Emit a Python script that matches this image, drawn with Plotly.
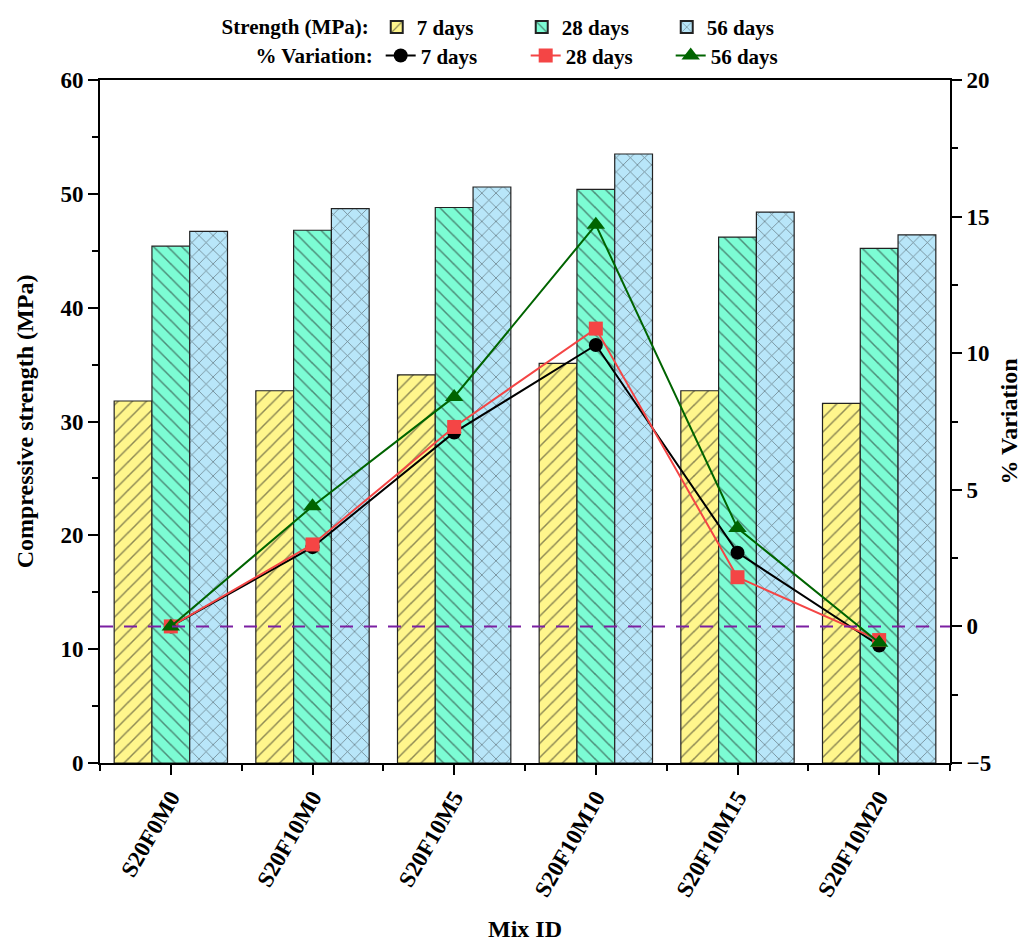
import plotly.graph_objects as go

mix_ids = ["S20F0M0", "S20F10M0", "S20F10M5", "S20F10M10", "S20F10M15", "S20F10M20"]
strength_7 = [31.8, 32.7, 34.1, 35.1, 32.7, 31.6]
strength_28 = [45.4, 46.8, 48.8, 50.4, 46.2, 45.2]
strength_56 = [46.7, 48.7, 50.6, 53.5, 48.4, 46.4]
var_7 = [0.0, 2.9, 7.1, 10.3, 2.7, -0.7]
var_28 = [0.0, 3.0, 7.3, 10.9, 1.8, -0.5]
var_56 = [0.0, 4.4, 8.4, 14.7, 3.6, -0.6]
day_labels = ["7 days", "28 days", "56 days"]

xpos = list(range(len(mix_ids)))
FONT = "Liberation Serif"

fig = go.Figure()

bar_styles = [
    ("#FFF68C", "/"),
    ("#7CFCD4", "\\"),
    ("#B8E6F9", "x"),
]
for vals, lab, (col, shp) in zip([strength_7, strength_28, strength_56], day_labels, bar_styles):
    fig.add_trace(go.Bar(
        x=xpos, y=vals, name=lab, legend="legend",
        marker=dict(color=col, line=dict(color="#222222", width=1.2),
                    pattern=dict(shape=shp, fgcolor="#1a1a1a", size=10, solidity=0.15)),
    ))

line_styles = [
    ("black", "circle", 14),
    ("#F44545", "square", 14),
    ("#006400", "triangle-up", 16),
]
for vals, lab, (col, sym, ms) in zip([var_7, var_28, var_56], day_labels, line_styles):
    fig.add_trace(go.Scatter(
        x=xpos, y=vals, name=lab, yaxis="y2", legend="legend2",
        mode="lines+markers",
        line=dict(color=col, width=2),
        marker=dict(color=col, symbol=sym, size=ms),
    ))

fig.add_shape(type="line", xref="paper", x0=0, x1=1, yref="y2", y0=0, y1=0,
              line=dict(color="#7B1FA2", width=2, dash="13px,11px"), layer="above")

axis_font = dict(family=FONT, size=23, color="black")
fig.update_layout(
    width=1026, height=947,
    margin=dict(l=100, r=76, t=80, b=184, autoexpand=False),
    paper_bgcolor="white", plot_bgcolor="white",
    font=dict(family=FONT, size=21, color="black"),
    barmode="group", bargap=0.2, bargroupgap=0,
    xaxis=dict(
        range=[-0.5, 5.5], tickmode="array", tickvals=xpos, ticktext=[f"<b>{m}</b>" for m in mix_ids],
        tickangle=-60, ticks="outside", ticklen=10, tickwidth=2, tickcolor="black",
        showline=True, linewidth=2, linecolor="black", mirror=True, showgrid=False, zeroline=False,
        minor=dict(tickmode="linear", tick0=-0.5, dtick=1, ticks="outside", ticklen=6, tickwidth=2, tickcolor="black"),
        tickfont=axis_font, automargin=False,
        title=dict(text="<b>Mix ID</b>", font=dict(family=FONT, size=24), standoff=20),
    ),
    yaxis=dict(
        range=[0, 60], dtick=10, ticks="outside", ticklen=10, tickwidth=2, tickcolor="black",
        showline=True, linewidth=2, linecolor="black", showgrid=False, zeroline=False,
        minor=dict(dtick=5, ticks="outside", ticklen=6, tickwidth=2, tickcolor="black"),
        tickfont=axis_font, tickprefix="<b>", ticksuffix="</b>", automargin=False,
        title=dict(text="<b>Compressive strength (MPa)</b>", font=dict(family=FONT, size=24), standoff=20),
    ),
    yaxis2=dict(
        overlaying="y", side="right",
        range=[-5, 20], dtick=5, ticks="outside", ticklen=10, tickwidth=2, tickcolor="black",
        showline=True, linewidth=2, linecolor="black", showgrid=False, zeroline=False,
        minor=dict(dtick=2.5, ticks="outside", ticklen=6, tickwidth=2, tickcolor="black"),
        tickfont=axis_font, tickprefix="<b>", ticksuffix="</b>", automargin=False,
        title=dict(text="<b>% Variation</b>", font=dict(family=FONT, size=24), standoff=10),
    ),
    legend=dict(
        orientation="h", xref="container", yref="container",
        x=0.214, xanchor="left", y=0.971, yanchor="middle",
        title=dict(text="<b>Strength (MPa):</b>", side="left", font=dict(family=FONT, size=21)),
        font=dict(family=FONT, size=21), entrywidth=100, entrywidthmode="pixels",
        bgcolor="rgba(0,0,0,0)", itemsizing="constant",
    ),
    legend2=dict(
        orientation="h", xref="container", yref="container",
        x=0.247, xanchor="left", y=0.941, yanchor="middle",
        title=dict(text="<b>% Variation:</b>", side="left", font=dict(family=FONT, size=21)),
        font=dict(family=FONT, size=21), entrywidth=100, entrywidthmode="pixels",
        bgcolor="rgba(0,0,0,0)",
    ),
)

for tr in fig.data:
    tr.name = f"<b>{tr.name}</b>"

fig.write_html("out.html")
